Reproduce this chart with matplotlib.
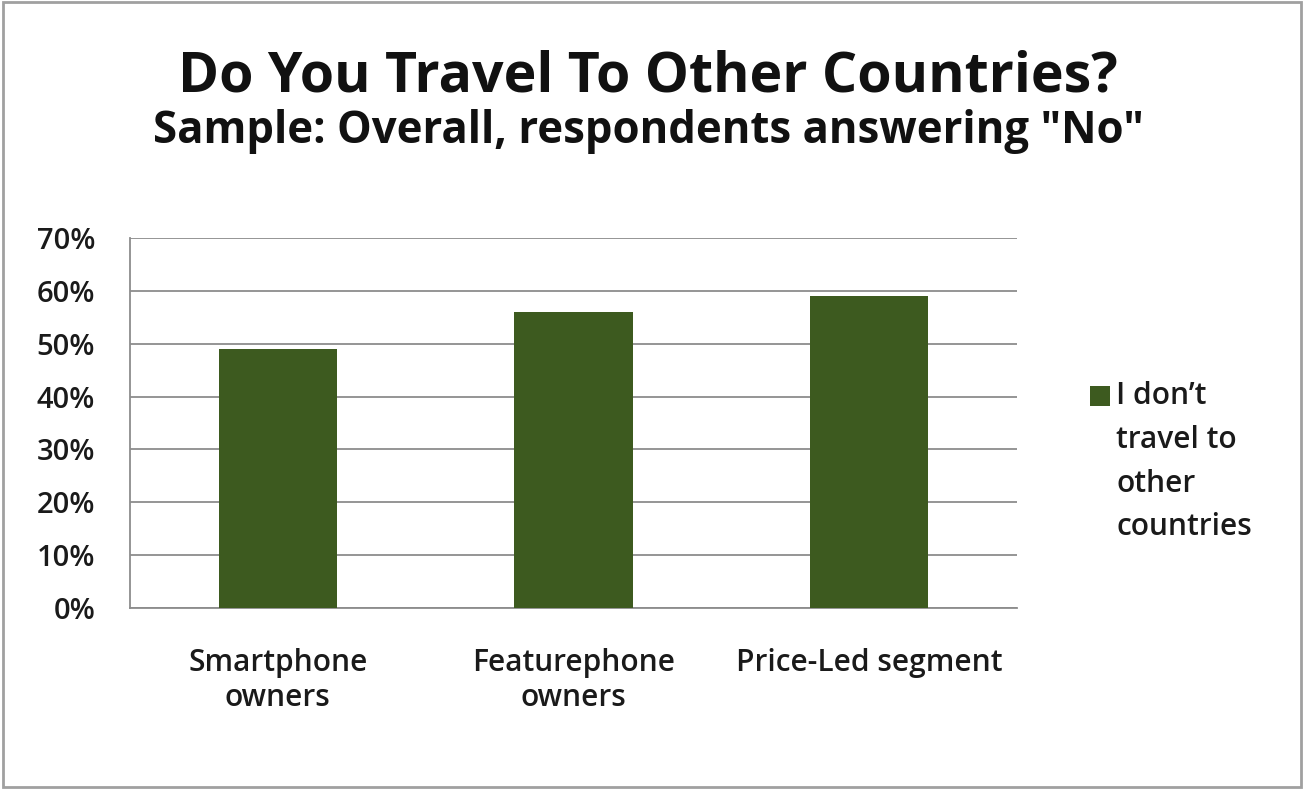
import matplotlib.pyplot as plt
from matplotlib.patches import Rectangle
from matplotlib.ticker import FuncFormatter, MultipleLocator

categories = ['Smartphone\nowners', 'Featurephone\nowners', 'Price-Led segment']
no_travel = [0.49, 0.56, 0.59]
series_name = 'I don\u2019t\ntravel to\nother\ncountries'

title = 'Do You Travel To Other Countries?'
subtitle = 'Sample: Overall, respondents answering "No"'

BAR_COLOR = '#3d5a1f'
GRID_COLOR = '#8c8c8c'
TEXT_COLOR = '#1a1a1a'

plt.rcParams['font.family'] = ['Open Sans', 'DejaVu Sans']

fig = plt.figure(figsize=(13.04, 7.89), dpi=100)

# thin grey frame round the whole chart
fig.patches.append(Rectangle((0.002, 0.002), 0.996, 0.995, transform=fig.transFigure,
                             fill=False, edgecolor='#a0a0a0', linewidth=2))

ax = fig.add_axes([130 / 1304, 1 - 608 / 789, 887 / 1304, 370 / 789])

x = range(len(categories))
bars = ax.bar(x, no_travel, width=0.4, color=BAR_COLOR, zorder=3)

ax.set_xlim(-0.5, len(categories) - 0.5)
ax.set_ylim(0, 0.7)
ax.yaxis.set_major_locator(MultipleLocator(0.1))
ax.yaxis.set_major_formatter(FuncFormatter(lambda v, _: f'{v * 100:.0f}%'))
ax.grid(axis='y', color=GRID_COLOR, linewidth=1.3, zorder=0)

for side in ['top', 'right']:
  ax.spines[side].set_visible(False)
for side in ['left', 'bottom']:
  ax.spines[side].set_color(GRID_COLOR)
  ax.spines[side].set_linewidth(1.3)

ax.set_xticks(list(x))
ax.set_xticklabels(categories, fontsize=21.5, fontweight='semibold', color=TEXT_COLOR,
                   linespacing=1.2)
ax.tick_params(axis='x', length=0, pad=29)
ax.tick_params(axis='y', length=0, pad=25, labelsize=21, labelcolor=TEXT_COLOR)
for lbl in ax.get_yticklabels():
  lbl.set_fontweight('semibold')

fig.text(0.497, 1 - 77 / 789, title, ha='center', va='center',
         fontsize=40, fontweight='bold', color='#111111')
fig.text(0.497, 1 - 132 / 789, subtitle, ha='center', va='center',
         fontsize=31.5, fontweight='bold', color='#111111')

# legend: swatch next to the first line of the wrapped series name
fig.patches.append(Rectangle((1090 / 1304, 1 - 406 / 789), 20 / 1304, 20 / 789,
                             transform=fig.transFigure,
                             facecolor=bars[0].get_facecolor(), edgecolor='none'))
fig.text(1116 / 1304, 1 - 381 / 789, series_name, ha='left', va='top',
         fontsize=21.5, fontweight='semibold', color=TEXT_COLOR, linespacing=1.6)

fig.savefig('out.png', dpi=100, facecolor='white')
